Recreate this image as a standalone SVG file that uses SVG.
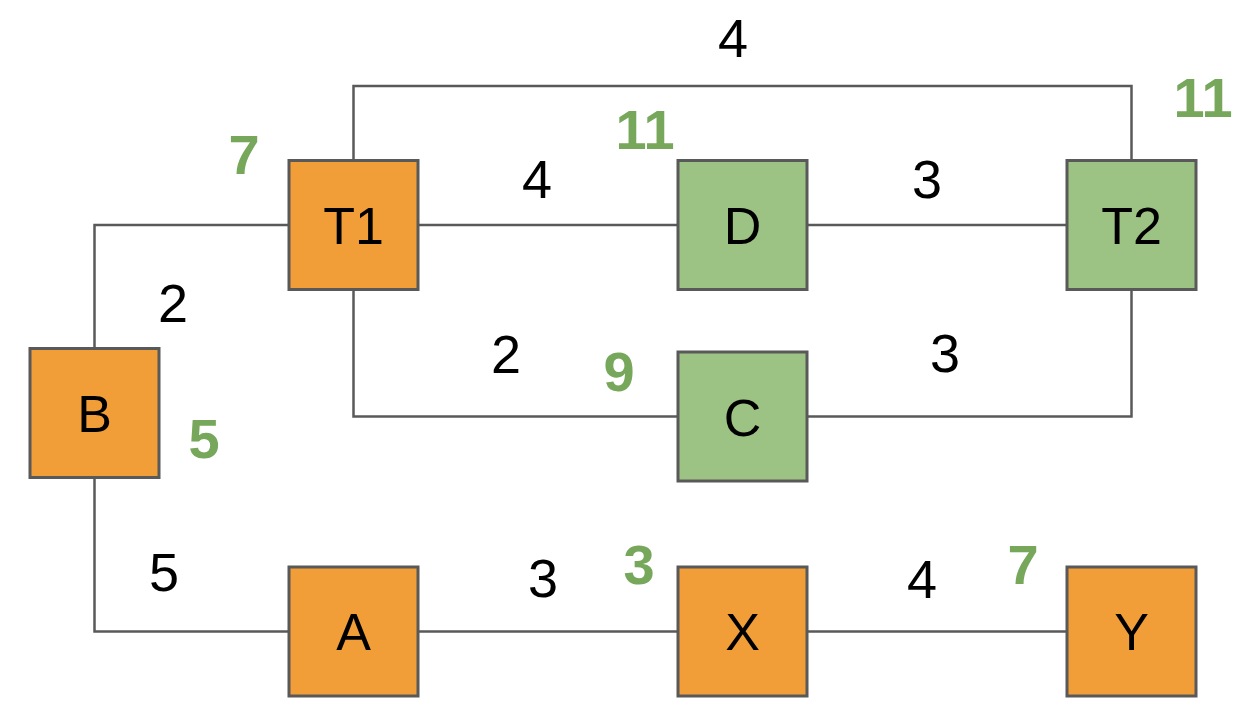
<svg xmlns="http://www.w3.org/2000/svg" width="1244" height="718" viewBox="0 0 1244 718">
<style>
.box{stroke:#595959;stroke-width:3}
.or{fill:#F19E38}
.gr{fill:#9DC384}
.nl{font-family:"Liberation Sans",Arial,sans-serif;font-size:52px;fill:#000;text-anchor:middle}
.el{font-family:"Liberation Sans",Arial,sans-serif;font-size:54px;fill:#000;text-anchor:middle}
.gl{font-family:"Liberation Sans",Arial,sans-serif;font-size:56px;font-weight:bold;fill:#77A75B;text-anchor:middle}
.conn path{fill:none;stroke:#595959;stroke-width:2.5}
</style>
<rect width="1244" height="718" fill="#fff"/>
<g class="conn" id="connectors">
<path d="M94.5 348 V225 H289"/>
<path d="M94.5 478 V631.5 H289"/>
<path d="M353.5 160 V86 H1131.5 V160"/>
<path d="M418 225 H678"/>
<path d="M807 225 H1067"/>
<path d="M353.5 290 V416.5 H678"/>
<path d="M807 416.5 H1131.5 V290"/>
<path d="M418 631.5 H678"/>
<path d="M807 631.5 H1067"/>
</g>
<g id="edge-labels">
<text class="el" x="733" y="57">4</text>
<text class="el" x="537" y="198">4</text>
<text class="el" x="927" y="198">3</text>
<text class="el" x="173" y="322">2</text>
<text class="el" x="506" y="373">2</text>
<text class="el" x="945" y="372">3</text>
<text class="el" x="164" y="591">5</text>
<text class="el" x="543" y="597">3</text>
<text class="el" x="922" y="598">4</text>
</g>
<g id="cost-labels">
<text class="gl" x="244" y="174">7</text>
<text class="gl" x="645" y="149">11</text>
<text class="gl" x="1203" y="117">11</text>
<text class="gl" x="619" y="391">9</text>
<text class="gl" x="204" y="458">5</text>
<text class="gl" x="639" y="584">3</text>
<text class="gl" x="1023" y="584">7</text>
</g>
<g id="T1"><rect class="box or" x="289" y="160.5" width="129" height="129"/><text class="nl" x="353.5" y="244">T1</text></g>
<g id="D"><rect class="box gr" x="678" y="160.5" width="129" height="129"/><text class="nl" x="742.5" y="244">D</text></g>
<g id="T2"><rect class="box gr" x="1067" y="160.5" width="129" height="129"/><text class="nl" x="1131.5" y="244">T2</text></g>
<g id="C"><rect class="box gr" x="678" y="352" width="129" height="129"/><text class="nl" x="742.5" y="436">C</text></g>
<g id="B"><rect class="box or" x="30" y="348.5" width="129" height="129"/><text class="nl" x="94.5" y="432">B</text></g>
<g id="A"><rect class="box or" x="289" y="567" width="129" height="129"/><text class="nl" x="353.5" y="650">A</text></g>
<g id="X"><rect class="box or" x="678" y="567" width="129" height="129"/><text class="nl" x="742.5" y="650">X</text></g>
<g id="Y"><rect class="box or" x="1067" y="567" width="129" height="129"/><text class="nl" x="1131.5" y="650">Y</text></g>
</svg>
